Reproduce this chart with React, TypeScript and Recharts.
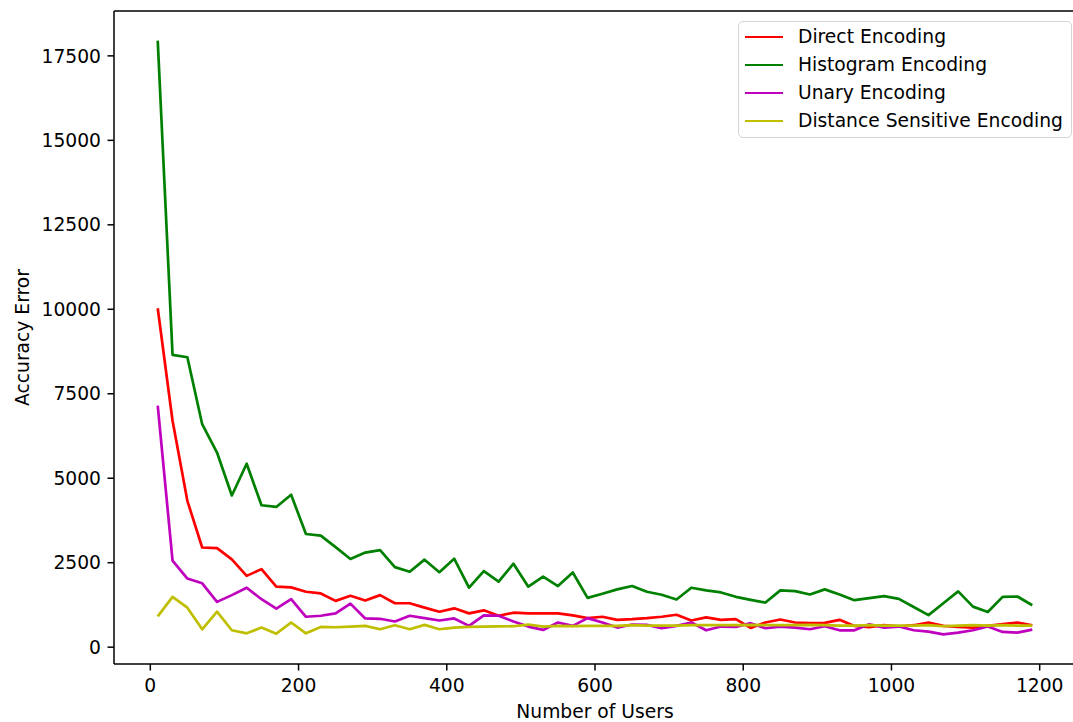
import React from 'react';
import { LineChart, Line, XAxis, YAxis, Legend, Label, ReferenceLine } from 'recharts';

const usersCount = [
  10, 30, 50, 70, 90, 110, 130, 150, 170, 190,
  210, 230, 250, 270, 290, 310, 330, 350, 370, 390,
  410, 430, 450, 470, 490, 510, 530, 550, 570, 590,
  610, 630, 650, 670, 690, 710, 730, 750, 770, 790,
  810, 830, 850, 870, 890, 910, 930, 950, 970, 990,
  1010, 1030, 1050, 1070, 1090, 1110, 1130, 1150, 1170, 1190,
];

const directEncoding = [
  10030, 6700, 4330, 2950, 2930, 2600, 2110, 2310, 1790, 1770,
  1640, 1590, 1370, 1520, 1380, 1540, 1300, 1300, 1170, 1050,
  1150, 1000, 1090, 930, 1020, 1000, 1000, 1000, 940, 860,
  900, 810, 830, 860, 900, 960, 790, 880, 810, 830,
  570, 730, 820, 730, 710, 720, 810, 630, 590, 650,
  610, 650, 730, 630, 600, 580, 630, 680, 730, 650,
];

const histogramEncoding = [
  17950, 8650, 8580, 6600, 5760, 4490, 5430, 4200, 4150, 4510,
  3350, 3300, 2960, 2610, 2800, 2870, 2370, 2230, 2590, 2220,
  2620, 1760, 2250, 1940, 2470, 1790, 2090, 1810, 2210, 1460,
  1580, 1710, 1810, 1640, 1550, 1410, 1760, 1680, 1620, 1490,
  1400, 1320, 1680, 1660, 1560, 1710, 1560, 1390, 1450, 1510,
  1430, 1190, 950, 1300, 1650, 1200, 1040, 1490, 1500, 1240,
];

const unaryEncoding = [
  7150, 2560, 2030, 1890, 1340, 1540, 1760, 1420, 1140, 1420,
  900, 930, 1000, 1290, 850, 840, 760, 930, 860, 790,
  850, 630, 940, 930, 760, 610, 510, 730, 630, 860,
  730, 580, 670, 660, 560, 630, 730, 500, 610, 600,
  710, 560, 610, 580, 530, 620, 500, 500, 680, 580,
  610, 500, 460, 380, 430, 500, 610, 450, 430, 520,
];

const distanceSensitiveEncoding = [
  910, 1490, 1170, 530, 1050, 500, 410, 580, 400, 730,
  410, 600, 590, 610, 630, 530, 650, 530, 660, 530,
  580, 600, 610, 615, 620, 670, 610, 630, 620, 630,
  630, 630, 650, 640, 640, 640, 650, 650, 650, 650,
  660, 650, 650, 650, 660, 650, 640, 640, 650, 640,
  640, 640, 650, 620, 640, 650, 640, 650, 640, 640,
];

const xTicks = [0, 200, 400, 600, 800, 1000, 1200];
const yTicks = [0, 2500, 5000, 7500, 10000, 12500, 15000, 17500];

const seriesKeys = ['direct', 'histogram', 'unary', 'distance'];
const seriesNames = ['Direct Encoding', 'Histogram Encoding', 'Unary Encoding', 'Distance Sensitive Encoding'];
const seriesColors = ['#ff0000', '#008000', '#bf00bf', '#bfbf00'];

const data = usersCount.map((u, i) => ({
  users: u,
  direct: directEncoding[i],
  histogram: histogramEncoding[i],
  unary: unaryEncoding[i],
  distance: distanceSensitiveEncoding[i],
}));

const FONT = '"DejaVu Sans", Verdana, sans-serif';
const FS = 18.7;
const SPINE = 1.5;
const X_DOMAIN: [number, number] = [-49, 1249];
const Y_DOMAIN: [number, number] = [-498, 18828];

const renderLegend = () => (
  <div
    style={{
      position: 'absolute',
      left: 738,
      top: 21,
      width: 334,
      height: 117,
      boxSizing: 'border-box',
      border: '1px solid #d5d5d5',
      borderRadius: 5,
      background: 'rgba(255,255,255,0.8)',
      fontFamily: FONT,
    }}
  >
    {seriesNames.map((name, i) => (
      <div
        key={name}
        style={{
          position: 'absolute',
          left: 6,
          top: 15 + 28 * i - 12,
          height: 24,
          display: 'flex',
          alignItems: 'center',
          whiteSpace: 'nowrap',
        }}
      >
        <div style={{ width: 38, height: 0, borderTop: `2.7px solid ${seriesColors[i]}` }} />
        <span style={{ marginLeft: 15, fontSize: FS, color: '#000', lineHeight: '24px' }}>{name}</span>
      </div>
    ))}
  </div>
);

const renderYLabel = () => (
  <text
    x={22}
    y={337.5}
    transform="rotate(-90, 22, 337.5)"
    textAnchor="middle"
    dominantBaseline="central"
    fontFamily={FONT}
    fontSize={FS}
    fill="#000"
  >
    Accuracy Error
  </text>
);

const renderXLabel = () => (
  <text x={595} y={718} textAnchor="middle" fontFamily={FONT} fontSize={FS} fill="#000">
    Number of Users
  </text>
);

export default function App() {
  return (
    <div
      style={{
        position: 'fixed',
        left: 0,
        top: 0,
        width: 1073,
        height: 722,
        overflow: 'hidden',
        background: '#ffffff',
      }}
    >
      <LineChart
        width={1090}
        height={722}
        data={data}
        margin={{ top: 11, right: 14, bottom: 0, left: 0 }}
        style={{ fontFamily: FONT }}
      >
        <XAxis
          dataKey="users"
          type="number"
          domain={X_DOMAIN}
          ticks={xTicks}
          interval={0}
          height={58}
          tickSize={6.5}
          tickMargin={8}
          stroke="#000"
          axisLine={{ stroke: '#000', strokeWidth: SPINE }}
          tickLine={{ stroke: '#000', strokeWidth: SPINE }}
          tick={{ fill: '#000', fontSize: FS, fontFamily: FONT }}
        >
          <Label content={renderXLabel} />
        </XAxis>
        <YAxis
          type="number"
          domain={Y_DOMAIN}
          ticks={yTicks}
          interval={0}
          width={114}
          tickSize={6.5}
          tickMargin={6.5}
          stroke="#000"
          axisLine={{ stroke: '#000', strokeWidth: SPINE }}
          tickLine={{ stroke: '#000', strokeWidth: SPINE }}
          tick={{ fill: '#000', fontSize: FS, fontFamily: FONT }}
        >
          <Label content={renderYLabel} />
        </YAxis>
        <ReferenceLine y={Y_DOMAIN[1]} stroke="#000" strokeWidth={SPINE} />
        <ReferenceLine x={X_DOMAIN[1]} stroke="#000" strokeWidth={SPINE} />
        {seriesKeys.map((k, i) => (
          <Line
            key={k}
            type="linear"
            dataKey={k}
            name={seriesNames[i]}
            stroke={seriesColors[i]}
            strokeWidth={2.7}
            strokeLinejoin="round"
            dot={false}
            activeDot={false}
            isAnimationActive={false}
          />
        ))}
        <Legend
          content={renderLegend}
          wrapperStyle={{ position: 'absolute', left: 0, top: 0, width: 0, height: 0, overflow: 'visible' }}
        />
      </LineChart>
    </div>
  );
}
